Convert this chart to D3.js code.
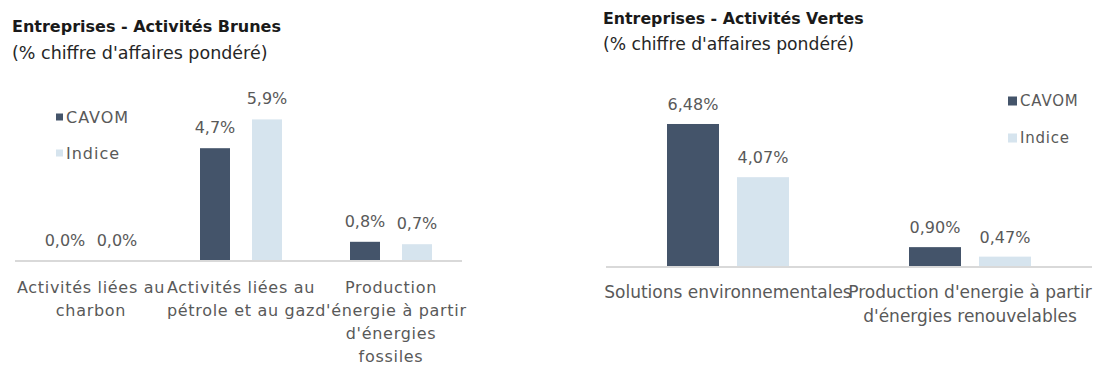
<!DOCTYPE html>
<html>
<head>
<meta charset="utf-8">
<script src="https://cdn.jsdelivr.net/npm/d3@7"></script>
<style>
  html, body { margin: 0; padding: 0; background: #ffffff; }
  svg { display: block; }
  text { font-family: "DejaVu Sans", Verdana, sans-serif; }
</style>
</head>
<body>
<svg id="chart" width="1095" height="365"></svg>
<script>
// ---------- data ----------
const series = ["CAVOM", "Indice"];

const brunesTitle = "Entreprises - Activités Brunes";
const brunesSubtitle = "(% chiffre d'affaires pondéré)";
const brunesCategories = [
  ["Activités liées au", "charbon"],
  ["Activités liées au", "pétrole et au gaz"],
  ["Production", "d'énergie à partir", "d'énergies", "fossiles"]
];
const brunesCavom = [0.0, 4.7, 0.8];
const brunesIndice = [0.0, 5.9, 0.7];
const brunesLabelsCavom = ["0,0%", "4,7%", "0,8%"];
const brunesLabelsIndice = ["0,0%", "5,9%", "0,7%"];

const vertesTitle = "Entreprises - Activités Vertes";
const vertesSubtitle = "(% chiffre d'affaires pondéré)";
const vertesCategories = [
  ["Solutions environnementales"],
  ["Production d'energie à partir", "d'énergies renouvelables"]
];
const vertesCavom = [6.48, 0.90];
const vertesIndice = [4.07, 0.47];
const vertesLabelsCavom = ["6,48%", "0,90%"];
const vertesLabelsIndice = ["4,07%", "0,47%"];

const colors = { CAVOM: "#44546A", Indice: "#D6E4EE" };
const textColor = "#595959";
const titleColor = "#1a1a1a";
const axisColor = "#D9D9D9";

const svg = d3.select("#chart");

function drawChart(cfg) {
  const g = svg.append("g");
  const catIdx = cfg.categories.map((_, i) => i);
  const x0 = d3.scaleBand().domain(catIdx).range(cfg.xRange).paddingInner(0).paddingOuter(0);
  const x1 = d3.scaleBand().domain(series).range(cfg.innerRange).paddingInner(cfg.innerPad);
  const y = d3.scaleLinear().domain(cfg.yDomain).range([cfg.baseY, cfg.topY]);

  // titles
  g.append("text").attr("x", cfg.titleX).attr("y", cfg.titleY)
    .attr("font-size", cfg.titleSize).attr("font-weight", "bold").attr("fill", titleColor)
    .text(cfg.title);
  g.append("text").attr("x", cfg.titleX).attr("y", cfg.subY)
    .attr("font-size", cfg.subSize).attr("fill", "#262626")
    .text(cfg.subtitle);

  const rows = [];
  catIdx.forEach(i => {
    rows.push({ i, s: "CAVOM", v: cfg.cavom[i], lab: cfg.labCavom[i] });
    rows.push({ i, s: "Indice", v: cfg.indice[i], lab: cfg.labIndice[i] });
  });

  // bars
  g.selectAll("rect.bar").data(rows).enter().append("rect")
    .attr("class", "bar")
    .attr("x", d => x0(d.i) + x1(d.s))
    .attr("width", x1.bandwidth())
    .attr("y", d => y(d.v))
    .attr("height", d => y(0) - y(d.v))
    .attr("fill", d => colors[d.s]);

  // axis line
  const axis = d3.axisBottom(x0).tickSize(0).tickFormat("");
  const ag = g.append("g").attr("transform", `translate(0,${cfg.baseY})`).call(axis);
  ag.select(".domain").attr("stroke", axisColor).attr("stroke-width", 2)
    .attr("d", `M${cfg.axisX[0]},0H${cfg.axisX[1]}`);

  // value labels
  g.selectAll("text.val").data(rows).enter().append("text")
    .attr("class", "val")
    .attr("x", d => x0(d.i) + x1(d.s) + x1.bandwidth() / 2)
    .attr("y", d => y(d.v) - cfg.valGap)
    .attr("text-anchor", "middle")
    .attr("font-size", cfg.valSize)
    .attr("fill", textColor)
    .text(d => d.lab);

  // category labels
  cfg.categories.forEach((lines, i) => {
    const t = g.append("text")
      .attr("text-anchor", "middle")
      .attr("font-size", cfg.catSize)
      .attr("letter-spacing", cfg.catLs)
      .attr("fill", textColor);
    lines.forEach((ln, k) => {
      t.append("tspan")
        .attr("x", x0(i) + x0.bandwidth() / 2)
        .attr("y", cfg.catY + k * cfg.catLine)
        .text(ln);
    });
  });

  // legend
  series.forEach((s, k) => {
    const ly = cfg.legY + k * cfg.legStep;
    g.append("rect").attr("x", cfg.legX).attr("y", ly - cfg.legSq / 2)
      .attr("width", cfg.legSq).attr("height", cfg.legSq).attr("fill", colors[s]);
    g.append("text").attr("x", cfg.legX + cfg.legSq + 3).attr("y", ly + cfg.legSize * 0.36)
      .attr("font-size", cfg.legSize).attr("letter-spacing", cfg.legLs)
      .attr("fill", textColor).text(s);
  });
}

drawChart({
  title: brunesTitle, subtitle: brunesSubtitle,
  categories: brunesCategories,
  cavom: brunesCavom, indice: brunesIndice,
  labCavom: brunesLabelsCavom, labIndice: brunesLabelsIndice,
  xRange: [16, 466], innerRange: [34, 116], innerPad: 22 / 52,
  yDomain: [0, 6], baseY: 261, topY: 117,
  axisX: [15, 462],
  titleX: 12, titleY: 32, subY: 59, titleSize: 16, subSize: 17.5,
  valGap: 15, valSize: 16,
  catY: 293, catLine: 23, catSize: 16, catLs: 0.7,
  legX: 56, legY: 117, legStep: 36, legSq: 7, legSize: 16, legLs: 1
});

drawChart({
  title: vertesTitle, subtitle: vertesSubtitle,
  categories: vertesCategories,
  cavom: vertesCavom, indice: vertesIndice,
  labCavom: vertesLabelsCavom, labIndice: vertesLabelsIndice,
  xRange: [607, 1091], innerRange: [60, 182], innerPad: 18 / 70,
  yDomain: [0, 7], baseY: 267, topY: 267 - 7 * 22.07,
  axisX: [606, 1092],
  titleX: 603, titleY: 24, subY: 50, titleSize: 15.8, subSize: 17.2,
  valGap: 14, valSize: 16,
  catY: 298, catLine: 24, catSize: 17, catLs: 0,
  legX: 1008, legY: 101, legStep: 37, legSq: 9, legSize: 15, legLs: 0.8
});
</script>
</body>
</html>
